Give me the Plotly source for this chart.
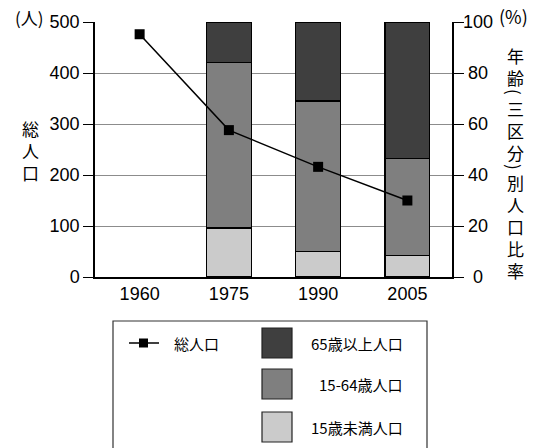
import plotly.graph_objects as go

# ---- data ----
years = ["1960", "1975", "1990", "2005"]
total_pop = [476, 288, 216, 150]            # 総人口 (人)
under15 = [None, 19.2, 10.1, 8.4]           # 15歳未満人口 (%)
age15_64 = [None, 64.8, 58.9, 38.2]         # 15-64歳人口 (%)
over65 = [None, 16.0, 31.0, 53.4]           # 65歳以上人口 (%)
pop_ticks = [0, 100, 200, 300, 400, 500]
pct_ticks = [0, 20, 40, 60, 80, 100]
series_names = ["15歳未満人口", "15-64歳人口", "65歳以上人口"]
line_name = "総人口"
left_title = "総人口"
right_title_parts = ["年齢", "(", "三区分", ")", "別人口比率"]

COLORS = {"15歳未満人口": "#cbcbcb", "15-64歳人口": "#7f7f7f", "65歳以上人口": "#3f3f3f"}
NUM_FONT = "Liberation Sans Narrow, Liberation Sans, Arial, sans-serif"
JP_FONT = "Noto Sans CJK JP, sans-serif"

W, H = 541, 448
L, R, T, B = 95, 89, 22, 171
PW, PH = W - L - R, H - T - B


def px(x):
    return (x - L) / PW


def py(y):
    return (H - B - y) / PH


fig = go.Figure()

for name, vals in zip(series_names, [under15, age15_64, over65]):
    fig.add_trace(go.Bar(
        x=years, y=vals, name=name, width=0.5, yaxis="y", xaxis="x",
        marker=dict(color=COLORS[name], line=dict(color="black", width=1.2)),
        showlegend=False,
    ))

fig.add_trace(go.Scatter(
    x=years, y=total_pop, name=line_name, yaxis="y2", xaxis="x",
    mode="lines+markers",
    line=dict(color="black", width=1.5),
    marker=dict(symbol="square", size=10, color="black"),
    showlegend=False,
))

annotations = []
# right tick labels (centered)
for v in pct_ticks:
    annotations.append(dict(x=px(478), xref="paper", y=v, yref="y", text=str(v),
                            showarrow=False, xanchor="center", yanchor="middle",
                            font=dict(family=NUM_FONT, size=18, color="black")))
# unit labels
annotations.append(dict(x=px(29), y=py(17), xref="paper", yref="paper", text="(人)",
                        showarrow=False, xanchor="center", yanchor="middle",
                        font=dict(family=JP_FONT, size=17, color="black")))
annotations.append(dict(x=px(513), y=py(16), xref="paper", yref="paper", text="(%)",
                        showarrow=False, xanchor="center", yanchor="middle",
                        font=dict(family=JP_FONT, size=18, color="black")))


def vtext(text, xc, yc, size=17, angle=0):
    annotations.append(dict(x=px(xc), y=py(yc), xref="paper", yref="paper",
                            text="<br>".join(text), showarrow=False, textangle=angle,
                            xanchor="center", yanchor="middle",
                            font=dict(family=JP_FONT, size=size, color="black")))


vtext(left_title, 30, 150)
# right title: chars stacked, parentheses rotated for vertical writing
vtext(right_title_parts[0], 515, 66)
vtext(right_title_parts[1], 515, 92, size=17, angle=90)
vtext(right_title_parts[2], 515, 130)
vtext(right_title_parts[3], 515, 167, size=17, angle=90)
vtext(right_title_parts[4], 515, 226)

shapes = []
# legend box
shapes.append(dict(type="rect", xref="paper", yref="paper", x0=px(113), x1=px(427),
                   y0=py(470), y1=py(321), line=dict(color="#333", width=1.2), fillcolor="white"))
# line legend
shapes.append(dict(type="line", xref="paper", yref="paper", x0=px(129), x1=px(159),
                   y0=py(343), y1=py(343), line=dict(color="black", width=1.5)))
shapes.append(dict(type="rect", xref="paper", yref="paper", x0=px(139), x1=px(148),
                   y0=py(347.5), y1=py(338.5), line=dict(color="black", width=0), fillcolor="black"))
annotations.append(dict(x=px(172), y=py(343), xref="paper", yref="paper", text=line_name,
                        showarrow=False, xanchor="left", yanchor="middle",
                        font=dict(family=JP_FONT, size=15, color="black")))
# bar legend
for name, yc in zip(["65歳以上人口", "15-64歳人口", "15歳未満人口"], [343, 384, 427]):
    shapes.append(dict(type="rect", xref="paper", yref="paper", x0=px(262), x1=px(292),
                       y0=py(yc + 15), y1=py(yc - 15),
                       line=dict(color="#222", width=1.2), fillcolor=COLORS[name]))
    annotations.append(dict(x=px(405), y=py(yc), xref="paper", yref="paper", text=name,
                            showarrow=False, xanchor="right", yanchor="middle",
                            font=dict(family=JP_FONT, size=15, color="black")))

fig.update_layout(
    width=W, height=H,
    margin=dict(l=L, r=R, t=T, b=B, pad=0, autoexpand=False),
    paper_bgcolor="white", plot_bgcolor="white",
    barmode="stack", bargap=0.5,
    showlegend=False,
    hovermode=False,
    xaxis=dict(type="category", range=[-0.5, 3.5], showline=True, linecolor="black",
               linewidth=1.5, ticks="", showgrid=False, automargin=False,
               tickfont=dict(family=NUM_FONT, size=18, color="black")),
    yaxis=dict(side="right", range=[0, 100], tickvals=pct_ticks, showticklabels=False,
               ticks="outside", ticklen=10, tickcolor="black", tickwidth=1,
               showline=True, linecolor="black", linewidth=1.5, automargin=False,
               showgrid=True, gridcolor="#8c8c8c", gridwidth=1, zeroline=False),
    yaxis2=dict(overlaying="y", side="left", range=[0, 500], tickvals=pop_ticks,
                ticks="outside", ticklen=10, tickcolor="black", tickwidth=1,
                showline=True, linecolor="black", linewidth=1.5, automargin=False,
                showgrid=False, zeroline=False,
                tickfont=dict(family=NUM_FONT, size=18, color="black")),
    annotations=annotations,
    shapes=shapes,
)

fig.write_html(
    "out.html",
    config={"displayModeBar": False},
    post_script="document.body.style.margin='0';document.body.style.overflow='hidden';",
)
